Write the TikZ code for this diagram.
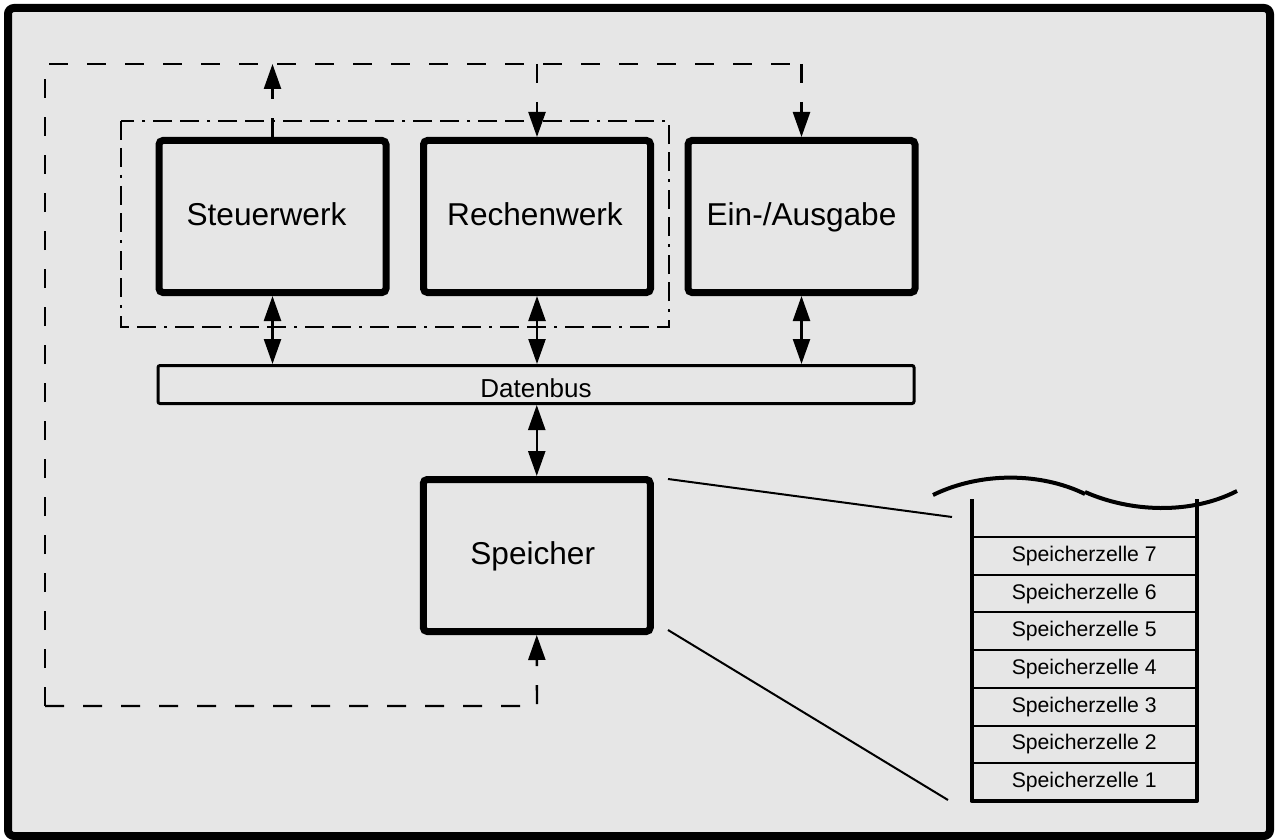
\documentclass[tikz,border=0pt]{standalone}
\usepackage{fontspec}
\setmainfont{Liberation Sans}
\usetikzlibrary{arrows.meta,positioning}
\definecolor{bg}{RGB}{230,230,230}
\tikzset{
  unitbox/.style={draw, fill=bg, line width=3.5pt, rounded corners=2pt, minimum width=113.5pt, minimum height=76pt, inner sep=0pt, text height=8.5pt, text depth=0pt, font=\fontsize{15.8}{18}\selectfont},
  busbox/.style={draw, fill=bg, line width=1.5pt, rounded corners=1pt, minimum width=378pt, minimum height=19pt, inner sep=0pt, text height=13.3pt, text depth=0pt, font=\fontsize{13}{15}\selectfont},
  cellbox/.style={draw, line width=1pt, minimum width=112.75pt, minimum height=18.85pt, inner sep=0pt, outer sep=0pt, font=\fontsize{10.6}{12}\selectfont},
  tipend/.style={-{Triangle[length=12.5pt,width=8.5pt]}},
  tipboth/.style={{Triangle[length=12.5pt,width=8.5pt]}-{Triangle[length=12.5pt,width=8.5pt]}},
  conn/.style={line width=1.2pt},
  ctrl/.style={line width=1.2pt, dash pattern=on 9.5pt off 9.5pt},
  group/.style={line width=1.2pt, dash pattern=on 9.5pt off 4pt on 9.5pt off 4pt on 1.5pt off 4pt},
  thin/.style={line width=1pt},
  stack/.style={line width=2pt}
}
\begin{document}
\begin{tikzpicture}[x={(0.5pt,0)}, y={(0,-0.5pt)}]
\useasboundingbox (0,0) rectangle (1275,840);
\fill[white] (0,0) rectangle (1275,840);
\draw[line width=4pt, fill=bg, rounded corners=3pt] (8,8) rectangle (1270,836);

% group of Steuerwerk and Rechenwerk
\draw[group] (121,121) rectangle (669,327);

% units
\node[unitbox] (steuer) at (272.5,216.5) {Steuerwerk\kern6pt};
\node[unitbox] (rechen) at (537,216.5) {Rechenwerk\kern2pt};
\node[unitbox] (ea) at (801.5,216.5) {Ein-/Ausgabe};
\node[busbox] (bus) at (536,384.5) {Datenbus};
\node[unitbox] (speicher) at (536.75,555.5) {Speicher\kern4pt};

% data connections
\draw[conn, tipboth] (steuer.south) -- (steuer.south |- bus.north);
\draw[conn, tipboth] (rechen.south) -- (rechen.south |- bus.north);
\draw[conn, tipboth] (ea.south) -- (ea.south |- bus.north);
\draw[conn, tipboth] (bus.south -| speicher.north) -- (speicher.north);

% control loop
\coordinate (lb) at (537,706);
\coordinate (ll) at (45,706);
\coordinate (lt) at (45,64);
\coordinate (ts) at (272.5,64);
\coordinate (tr) at (537,64);
\coordinate (te) at (801.5,64);
\draw[ctrl, tipend] (ll) -- (lb) -- (speicher.south);
\draw[ctrl] (ll) -- (lt) -- (te);
\draw[ctrl, tipend] (te) -- (ea.north);
\draw[ctrl, tipend] (tr) -- (rechen.north);
\draw[ctrl, tipend] (steuer.north) -- (ts);

% memory cells
\node[cellbox] (z7) at (1084.25,555.85) {Speicherzelle 7};
\node[cellbox, below=0pt of z7] (z6) {Speicherzelle 6};
\node[cellbox, below=0pt of z6] (z5) {Speicherzelle 5};
\node[cellbox, below=0pt of z5] (z4) {Speicherzelle 4};
\node[cellbox, below=0pt of z4] (z3) {Speicherzelle 3};
\node[cellbox, below=0pt of z3] (z2) {Speicherzelle 2};
\node[cellbox, below=0pt of z2] (z1) {Speicherzelle 1};
\coordinate (sl) at (971.5,499);
\coordinate (sr) at (1197,499);
\draw[stack, line join=round] (sl) -- (sl |- z1.south) -- (sr |- z1.south) -- (sr);

% broken top
\coordinate (w1) at (933,495);
\coordinate (w2) at (1085,494);
\coordinate (w3) at (1085,492);
\coordinate (w4) at (1237,491);
\draw[stack] (w1) .. controls (980,472) and (1040,472) .. (w2);
\draw[stack] (w3) .. controls (1130,512) and (1190,515) .. (w4);

% magnifier lines
\coordinate (m1) at (668,479);
\coordinate (m2) at (952,517);
\coordinate (m3) at (668,630);
\coordinate (m4) at (948,800);
\draw[thin] (m1) -- (m2);
\draw[thin] (m3) -- (m4);
\end{tikzpicture}
\end{document}
